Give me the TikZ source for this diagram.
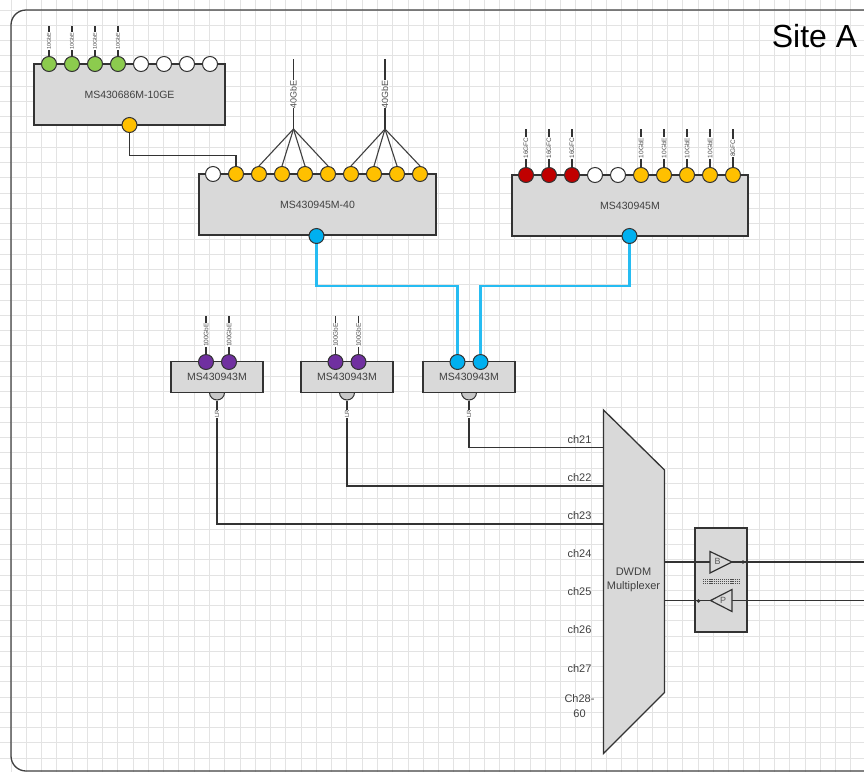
\documentclass[tikz,border=0pt]{standalone}
\usepackage{fontspec}
\setmainfont{Liberation Sans}
\definecolor{boxgray}{HTML}{D9D9D9}
\definecolor{portgreen}{HTML}{8CCB4E}
\definecolor{portamber}{HTML}{FFC000}
\definecolor{portred}{HTML}{C00000}
\definecolor{portpurple}{HTML}{7030A0}
\definecolor{portblue}{HTML}{00B0F0}
\definecolor{portgray}{HTML}{C8C8C8}
\tikzset{
    devbox/.style={draw=black!80, fill=boxgray, line width=1.3pt, inner sep=0pt, text=black!75, font=\fontsize{10.5}{12}\selectfont},
    port/.style={circle, draw=black!80, line width=1pt, minimum size=15pt, inner sep=0pt},
    link/.style={black!80, line width=1.5pt},
    fanlink/.style={black!75, line width=1.1pt},
    bluelink/.style={color=portblue!85!white, line width=2.4pt},
    rate/.style={rotate=90, fill=white, inner sep=0.4pt, text=black!70},
    chlabel/.style={text=black!75, inner sep=0pt, font=\fontsize{11}{12}\selectfont}
}
\begin{document}
\begin{tikzpicture}[x=1pt, y=-1pt]
    \clip (0,0) rectangle (864,772);
    \fill[white] (0,0) rectangle (864,772);
    % page grid
    \foreach \k in {0,...,56}
        \draw[black!11, line width=1pt] ({11+15.27*\k},0) -- ({11+15.27*\k},772);
    \foreach \k in {0,...,50}
        \draw[black!11, line width=1pt] (0,{10+15.27*\k}) -- (864,{10+15.27*\k});
    \draw[black!75, line width=1.3pt, rounded corners=15pt] (11,10) rectangle (920,771);
    \node[inner sep=0pt, font=\fontsize{32}{36}\selectfont] (siteA) at (814.5,36) {Site A};

    % 10GE switch
    \node[devbox, minimum width=191pt, minimum height=61pt] (swTen) at (129.5,94.5) {MS430686M-10GE};
    \foreach \i/\x/\c in {1/49/portgreen, 2/72/portgreen, 3/95/portgreen, 4/118/portgreen,
                          5/141/white, 6/164/white, 7/187/white, 8/210/white}
        \node[port, fill=\c] (ten\i) at (\x,64) {};
    \node[port, fill=portamber] (tenUp) at (129.5,125) {};
    \foreach \i/\x in {1/49, 2/72, 3/95, 4/118} {
        \coordinate (tenEnd\i) at (\x,26);
        \draw[link] (ten\i.north) -- (tenEnd\i)
            node[midway, rate, font=\fontsize{5.5}{6}\selectfont] {10GbE};
    }

    % 40G switch
    \node[devbox, minimum width=237pt, minimum height=61pt] (swForty) at (317.5,204.5) {MS430945M-40};
    \foreach \i/\x/\c in {1/213/white, 2/236/portamber, 3/259/portamber, 4/282/portamber, 5/305/portamber,
                          6/328/portamber, 7/351/portamber, 8/374/portamber, 9/397/portamber, 10/420/portamber}
        \node[port, fill=\c] (forty\i) at (\x,174) {};
    \node[port, fill=portblue] (fortyUp) at (316.5,236) {};
    \coordinate (hubA) at (293.5,129);
    \coordinate (hubB) at (385,129);
    \coordinate (hubAEnd) at (293.5,59);
    \coordinate (hubBEnd) at (385,59);
    \foreach \i in {3,4,5,6}
        \draw[fanlink] (hubA) -- (forty\i.north);
    \foreach \i in {7,8,9,10}
        \draw[fanlink] (hubB) -- (forty\i.north);
    \draw[link] (hubA) -- (hubAEnd)
        node[midway, rate, font=\fontsize{9}{10}\selectfont] {40GbE};
    \draw[link] (hubB) -- (hubBEnd)
        node[midway, rate, font=\fontsize{9}{10}\selectfont] {40GbE};
    \coordinate (tenBend) at (129.5,155.5);
    \draw[link] (tenUp.south) -- (tenBend) -| (forty2.north);

    % 16G / 10G switch
    \node[devbox, minimum width=236pt, minimum height=61pt] (swMix) at (630,205.5) {MS430945M};
    \foreach \i/\x/\c in {1/526/portred, 2/549/portred, 3/572/portred, 4/595/white, 5/618/white,
                          6/641/portamber, 7/664/portamber, 8/687/portamber, 9/710/portamber, 10/733/portamber}
        \node[port, fill=\c] (mix\i) at (\x,175) {};
    \node[port, fill=portblue] (mixUp) at (629.5,236) {};
    \foreach \i/\x/\t in {1/526/16GFC, 2/549/16GFC, 3/572/16GFC, 6/641/10GbE, 7/664/10GbE,
                          8/687/10GbE, 9/710/10GbE, 10/733/8GFC} {
        \coordinate (mixEnd\i) at (\x,129);
        \draw[link] (mix\i.north) -- (mixEnd\i)
            node[midway, rate, font=\fontsize{6.5}{7}\selectfont] {\t};
    }

    % 100G switches with the grey port under the box
    \foreach \n/\x in {A/217, B/347, C/469} {
        \node[port, fill=portgray] (low\n) at (\x,392.5) {};
        \node[devbox, minimum width=92pt, minimum height=31pt] (sw\n) at (\x,377) {MS430943M};
    }
    \foreach \n/\a/\b in {A/206/229, B/335.5/358.5} {
        \node[port, fill=portpurple] (up\n a) at (\a,362) {};
        \node[port, fill=portpurple] (up\n b) at (\b,362) {};
        \coordinate (up\n aEnd) at (\a,316);
        \coordinate (up\n bEnd) at (\b,316);
        \draw[link] (up\n a.north) -- (up\n aEnd)
            node[midway, rate, font=\fontsize{6.5}{7}\selectfont] {100GbE};
        \draw[link] (up\n b.north) -- (up\n bEnd)
            node[midway, rate, font=\fontsize{6.5}{7}\selectfont] {100GbE};
    }
    \node[port, fill=portblue] (upCa) at (457.5,362) {};
    \node[port, fill=portblue] (upCb) at (480.5,362) {};

    % blue links
    \coordinate (busA) at (316.5,286);
    \coordinate (busB) at (629.5,286);
    \draw[bluelink] (fortyUp.south) -- (busA) -| (upCa.north);
    \draw[bluelink] (mixUp.south) -- (busB) -| (upCb.north);

    % multiplexer
    \draw[fill=boxgray, draw=black!80, line width=1.3pt] (603.5,410) -- (664.5,470) -- (664.5,692.5) -- (603.5,753.5) -- cycle;
    \node[align=center, inner sep=0pt, text=black!75, font=\fontsize{11}{14}\selectfont] (muxText) at (633.5,580) {DWDM\\Multiplexer};
    \foreach \t/\y in {ch21/439.5, ch22/477.5, ch23/515.5, ch24/554, ch25/592, ch26/630, ch27/669}
        \node[chlabel] (\t) at (579.5,\y) {\t};
    \node[chlabel, align=center, font=\fontsize{11}{15}\selectfont] (chRest) at (579.5,706.5) {Ch28-\\60};
    \coordinate (inA) at (603.5,447.5);
    \coordinate (inB) at (603.5,486);
    \coordinate (inC) at (603.5,524);
    \draw[link] (lowC.south) |- (inA);
    \draw[link] (lowB.south) |- (inB);
    \draw[link] (lowA.south) |- (inC);
    \node[rate, font=\fontsize{6}{7}\selectfont] (lrA) at (217,414) {LR};
    \node[rate, font=\fontsize{6}{7}\selectfont] (lrB) at (347,414) {LR};
    \node[rate, font=\fontsize{6}{7}\selectfont] (lrC) at (469,414) {LR};

    % amplifier shelf
    \node[devbox, minimum width=52pt, minimum height=104pt] (shelf) at (721,580) {};
    \coordinate (muxOut) at (664.5,562);
    \coordinate (muxIn) at (664.5,600.5);
    \coordinate (lineOut) at (864,562);
    \coordinate (lineIn) at (864,600.5);
    \draw[link] (muxOut) -- (lineOut);
    \draw[link] (muxIn) -- (lineIn);
    \draw[fill=boxgray, draw=black!80, line width=1.2pt] (710,551.5) -- (732,562) -- (710,573) -- cycle;
    \draw[fill=boxgray, draw=black!80, line width=1.2pt] (732,589.5) -- (710.5,600.5) -- (732,611.5) -- cycle;
    \node[inner sep=0pt, text=black!65, font=\fontsize{9}{10}\selectfont] (ampB) at (717.5,561.5) {B};
    \node[inner sep=0pt, text=black!65, font=\fontsize{9}{10}\selectfont] (ampP) at (723,600.5) {P};
    \fill[black!80] (743,562) circle (1.8pt);
    \fill[black!80] (698.5,601) circle (1.8pt);
    % fibre strip between the amplifiers
    \foreach \y in {579.4,581.4,583.4}
        \draw[black!70, line width=1.6pt, dash pattern=on 1.2pt off 0.9pt] (703,\y) -- (739,\y);
\end{tikzpicture}
\end{document}
